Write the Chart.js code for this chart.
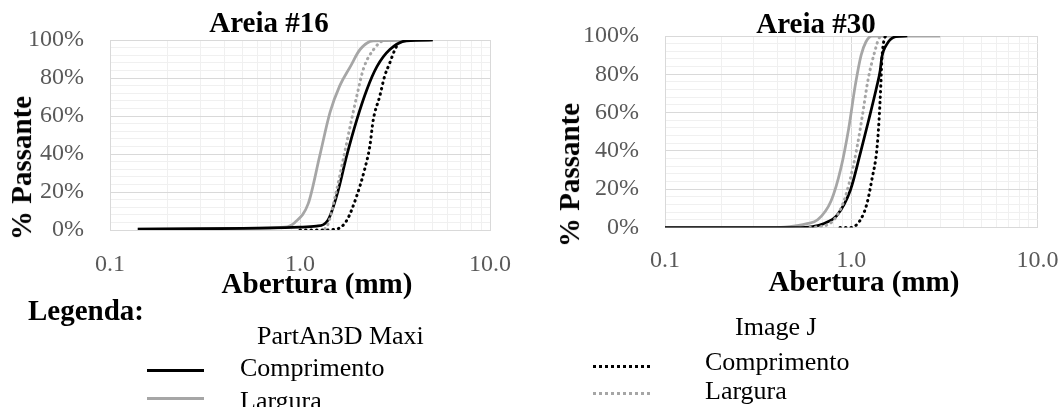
<!DOCTYPE html>
<html>
<head>
<meta charset="utf-8">
<script src="https://cdn.jsdelivr.net/npm/chart.js@4"></script>
<style>
  html, body { margin: 0; padding: 0; background: #fff; }
  #page { position: relative; width: 1062px; height: 407px; overflow: hidden; font-family: 'Liberation Serif', 'Times New Roman', serif; }
  .box { position: absolute; top: 0; height: 300px; }
  .t { position: absolute; white-space: nowrap; transform: translate(-50%, -50%); line-height: 1.1; }
  .l { position: absolute; white-space: nowrap; transform: translateY(-50%); line-height: 1.1; }
  .b { font-weight: bold; font-size: 29px; }
  .leg { font-size: 26px; }
  .ln { position: absolute; width: 57px; height: 0; }
</style>
</head>
<body>
<div id="page">
  <div class="box" style="left:0;width:520px"><canvas id="c16"></canvas></div>
  <div class="box" style="left:520px;width:542px"><canvas id="c30"></canvas></div>

  <div class="t b" style="left:269px;top:23px">Areia #16</div>
  <div class="t b" style="left:816px;top:24px">Areia #30</div>
  <div class="t b" style="left:22px;top:168px;transform:translate(-50%,-50%) rotate(-90deg)">% Passante</div>
  <div class="t b" style="left:570px;top:175px;transform:translate(-50%,-50%) rotate(-90deg)">% Passante</div>
  <div class="t b" style="left:317px;top:284px">Abertura (mm)</div>
  <div class="t b" style="left:864px;top:282px">Abertura (mm)</div>

  <div class="l b" style="left:28px;top:311px">Legenda:</div>
  <div class="l leg" style="left:257px;top:336px">PartAn3D Maxi</div>
  <div class="l leg" style="left:240px;top:368px">Comprimento</div>
  <div class="l leg" style="left:240px;top:401px">Largura</div>
  <div class="ln" style="left:147px;top:369px;border-top:3px solid #000"></div>
  <div class="ln" style="left:147px;top:397px;border-top:3px solid #a6a6a6"></div>

  <div class="l leg" style="left:735px;top:327px">Image J</div>
  <div class="l leg" style="left:705px;top:362px">Comprimento</div>
  <div class="l leg" style="left:705px;top:391px">Largura</div>
  <div class="ln" style="left:593px;top:365px;border-top:3px dotted #000"></div>
  <div class="ln" style="left:593px;top:392px;border-top:3px dotted #a6a6a6"></div>
</div>

<script>
// Areia #16 — abertura (mm) e % passante
const a16CompMaxiX = [0.14, 0.5, 1.0, 1.22, 1.40, 1.59, 1.76, 1.99, 2.25, 2.54, 2.97, 3.63, 5.0];
const a16CompMaxiY = [0.5, 0.8, 1.5, 2, 5, 21, 39, 58, 74, 86, 95, 99.6, 100];
const a16LargMaxiX = [0.14, 0.5, 0.83, 0.94, 1.106, 1.27, 1.44, 1.62, 1.84, 2.07, 2.43, 5.0];
const a16LargMaxiY = [0.5, 0.8, 1.5, 4, 14, 39, 62, 76, 86, 95, 99.6, 100];
const a16CompIjX = [1.0, 1.3, 1.56, 1.76, 1.99, 2.19, 2.33, 2.43, 2.63, 2.79, 2.97, 3.16, 3.3];
const a16CompIjY = [0, 0, 0.5, 5, 18, 32, 44, 58, 70.5, 81, 88, 95, 98.5];
const a16LargIjX = [1.35, 1.41, 1.53, 1.72, 1.84, 1.99, 2.16, 2.44, 2.75, 3.2];
const a16LargIjY = [0.5, 3.5, 17.5, 41, 55, 70.5, 85, 95, 99.6, 100];

// Areia #30
const a30CompMaxiX = [0.1, 0.5, 0.62, 0.71, 0.84, 0.99, 1.12, 1.24, 1.37, 1.43, 1.46, 1.56, 1.73, 2.0];
const a30CompMaxiY = [0, 0, 0.5, 2, 6.5, 19.6, 39, 56, 73.5, 82, 89, 96, 99.6, 100];
const a30LargMaxiX = [0.1, 0.4, 0.51, 0.58, 0.66, 0.78, 0.88, 0.97, 1.05, 1.13, 1.2, 1.29, 3.0];
const a30LargMaxiY = [0, 0, 1, 2, 4, 14, 31, 52, 74, 90, 97, 100, 100];
const a30CompIjX = [0.87, 0.99, 1.12, 1.215, 1.29, 1.37, 1.41, 1.44, 1.46, 1.50, 1.53];
const a30CompIjY = [0, 0, 4, 12.6, 25, 40, 56, 73.5, 87.5, 98, 100];
const a30LargIjX = [0.6, 0.75, 0.89, 0.98, 1.07, 1.15, 1.23, 1.33, 1.43, 1.6];
const a30LargIjY = [0, 1.5, 11, 24, 41, 59, 77, 91, 99.5, 100];

const yTicks = [0, 20, 40, 60, 80, 100];
const xTicks = [0.1, 1, 10];

const FONT = "'Liberation Serif', 'Times New Roman', serif";
const GRID_MAJOR = '#d9d9d9';
const GRID_MINOR = '#f0f0f0';
const NADA = 'rgba(0,0,0,0)';

function pts(xs, ys) {
  return xs.map((x, i) => ({ x, y: ys[i] }));
}

function isDecade(v) {
  return xTicks.some(t => Math.abs(v - t) < 1e-9);
}

function serie(xs, ys, color, dotted) {
  return {
    data: pts(xs, ys),
    borderColor: color,
    borderWidth: dotted ? 3 : 2.75,
    borderDash: dotted ? [0.5, 5] : [],
    borderCapStyle: dotted ? 'round' : 'butt',
    pointRadius: 0,
    cubicInterpolationMode: 'monotone',
    fill: false,
  };
}

// la separación de las etiquetas va en tickLength (marca invisible) para no inflar el padding del área
function crearCurva(canvas, datasets, { yWidth, xHeight, top, right, labelPad }) {
  return new Chart(canvas, {
    type: 'line',
    data: { datasets },
    options: {
      responsive: true,
      maintainAspectRatio: false,
      animation: false,
      layout: { padding: { left: 0, top, right, bottom: 0 } },
      plugins: { legend: { display: false }, tooltip: { enabled: false }, title: { display: false } },
      scales: {
        x: {
          type: 'logarithmic',
          min: 0.1,
          max: 10,
          afterFit(s) { s.height = xHeight; },
          grid: {
            drawTicks: true,
            tickLength: labelPad,
            tickColor: NADA,
            color: ctx => (ctx.tick && isDecade(ctx.tick.value) ? GRID_MAJOR : GRID_MINOR),
          },
          border: { color: GRID_MAJOR },
          ticks: {
            autoSkip: false,
            maxRotation: 0,
            padding: 0,
            font: { family: FONT, size: 24 },
            color: '#595959',
            callback: v => (isDecade(v) ? v.toFixed(1) : ''),
          },
        },
        y: {
          min: 0,
          max: 100,
          afterFit(s) { s.width = yWidth; },
          grid: {
            drawTicks: true,
            tickLength: 26,
            tickColor: NADA,
            color: ctx => (ctx.tick && yTicks.includes(ctx.tick.value) ? GRID_MAJOR : GRID_MINOR),
          },
          border: { color: GRID_MAJOR },
          ticks: {
            stepSize: 4,
            autoSkip: false,
            padding: 0,
            font: { family: FONT, size: 24 },
            color: '#595959',
            callback: v => (yTicks.includes(v) ? v + '%' : ''),
          },
        },
      },
    },
  });
}

crearCurva(document.getElementById('c16'), [
  serie(a16CompIjX, a16CompIjY, '#000', true),
  serie(a16LargIjX, a16LargIjY, '#a6a6a6', true),
  serie(a16CompMaxiX, a16CompMaxiY, '#000', false),
  serie(a16LargMaxiX, a16LargMaxiY, '#a6a6a6', false),
], { yWidth: 110, xHeight: 70, top: 40, right: 30, labelPad: 20 });

crearCurva(document.getElementById('c30'), [
  serie(a30CompIjX, a30CompIjY, '#000', true),
  serie(a30LargIjX, a30LargIjY, '#a6a6a6', true),
  serie(a30CompMaxiX, a30CompMaxiY, '#000', false),
  serie(a30LargMaxiX, a30LargMaxiY, '#a6a6a6', false),
], { yWidth: 145, xHeight: 72.5, top: 36, right: 24.5, labelPad: 19 });
</script>
</body>
</html>
